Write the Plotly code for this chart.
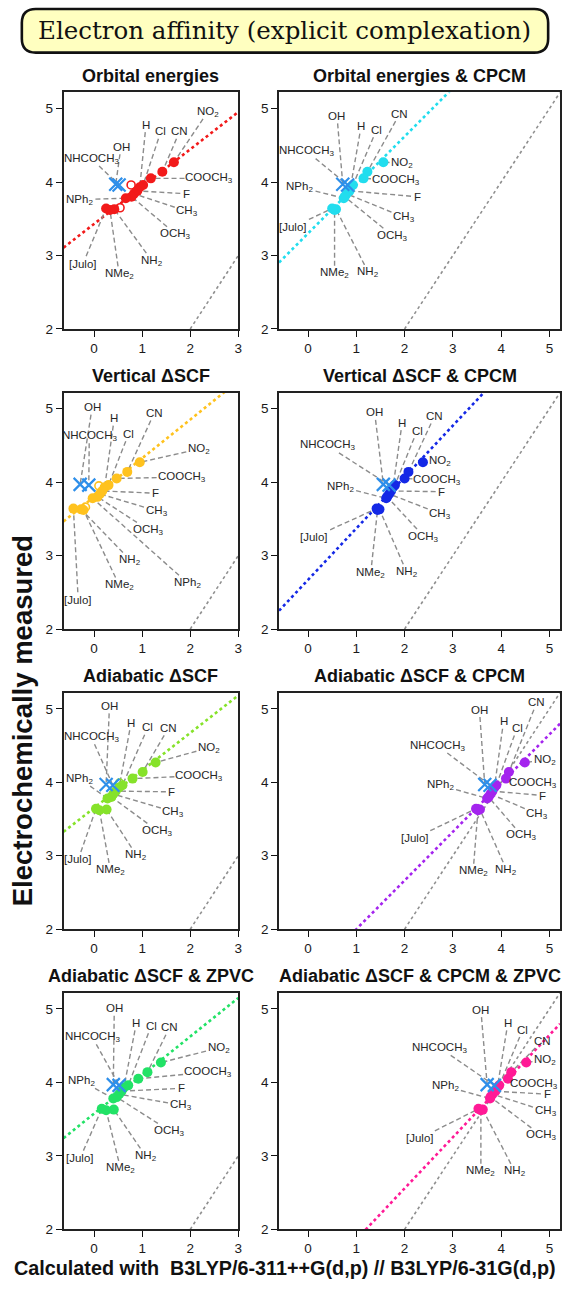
import re
import numpy as np
import plotly.graph_objects as go

# ---------------------------------------------------------------- data
substituents = ["NO2", "CN", "COOCH3", "Cl", "H", "F", "CH3", "OCH3",
                "NPh2", "NH2", "NMe2", "[Julo]", "OH", "NHCOCH3"]
# compounds left out of the regression, drawn as crosses
excluded = ["OH", "NHCOCH3"]

# electrochemically measured electron affinities (eV)
ea_measured = [4.27, 4.14, 4.05, 3.96, 3.93, 3.88, 3.84, 3.80,
               3.78, 3.63, 3.62, 3.64, 3.97, 3.96]

# calculated values, B3LYP/6-311++G(d,p) // B3LYP/6-31G(d,p)
ea_orbital = [1.66, 1.42, 1.18, 1.02, 0.95, 0.90, 0.83, 0.78,
              0.66, 0.42, 0.33, 0.25, 0.45, 0.52]
ea_orbital_cpcm = [1.56, 1.23, 1.15, 0.93, 0.88, 0.86, 0.80, 0.76,
                   0.74, 0.58, 0.55, 0.50, 0.72, 0.82]
ea_vertical = [0.95, 0.69, 0.47, 0.30, 0.22, 0.17, 0.12, 0.07,
               -0.03, -0.27, -0.22, -0.43, -0.29, -0.11]
ea_vertical_cpcm = [2.38, 2.08, 2.00, 1.80, 1.76, 1.72, 1.68, 1.64,
                    1.62, 1.48, 1.44, 1.42, 1.56, 1.68]
ea_adiabatic = [1.28, 1.01, 0.80, 0.59, 0.52, 0.45, 0.40, 0.36,
                0.28, 0.26, 0.11, 0.04, 0.25, 0.39]
ea_adiabatic_cpcm = [4.49, 4.16, 4.10, 3.90, 3.86, 3.82, 3.78, 3.74,
                     3.71, 3.56, 3.52, 3.48, 3.66, 3.77]
ea_adiabatic_zpvc = [1.39, 1.11, 0.92, 0.71, 0.62, 0.57, 0.52, 0.47,
                     0.40, 0.41, 0.25, 0.16, 0.40, 0.52]
ea_adiabatic_cpcm_zpvc = [4.52, 4.21, 4.14, 3.96, 3.92, 3.88, 3.82, 3.78,
                          3.77, 3.62, 3.58, 3.53, 3.71, 3.86]

# second conformers (open circles): calculated / measured
alt_calc = [[0.77, 0.54], [], [0.10, -0.18], [], [0.53], [], [], []]
alt_measured = [[3.96, 3.65], [], [3.95, 3.66], [], [3.99], [], [], []]

panel_titles = ["Orbital energies", "Orbital energies & CPCM",
                "Vertical ΔSCF", "Vertical ΔSCF & CPCM",
                "Adiabatic ΔSCF", "Adiabatic ΔSCF & CPCM",
                "Adiabatic ΔSCF & ZPVC", "Adiabatic ΔSCF & CPCM & ZPVC"]

# linear fits, measured = intercept + slope * calculated
fit_intercept = [3.43, 3.30, 3.80, 2.67, 3.65, 1.337, 3.575, 1.165]
fit_slope = [0.508, 0.66, 0.526, 0.70, 0.511, 0.663, 0.525, 0.696]

panel_calc = [ea_orbital, ea_orbital_cpcm, ea_vertical, ea_vertical_cpcm,
              ea_adiabatic, ea_adiabatic_cpcm, ea_adiabatic_zpvc,
              ea_adiabatic_cpcm_zpvc]

# ---------------------------------------------------------------- style
PANEL_COLORS = ["#F21A1A", "#22DDEE", "#FFC21E", "#1428E6",
                "#86E22A", "#A424EE", "#22E266", "#FF1A96"]
CROSS_COLOR = "#2E8FEA"
GUIDE_COLOR = "#8C8C8C"
FONT = "Liberation Sans, Arial, Helvetica, sans-serif"
LABEL_SIZE = 11.5

W, H = 573, 1290
COL_X = [(64, 240), (281, 564)]           # pixel extents of plot areas
ROW_Y = [(93, 331), (395, 633), (697, 935), (999, 1237)]
X_RANGES = [(-0.635, 3.0), (-0.6, 5.22)]
Y_RANGE = (2.0, 5.22)
X_TICKS = [[0, 1, 2, 3], [0, 1, 2, 3, 4, 5]]

# label anchor positions (data units) in substituent order, per panel
LABEL_POS = [
    [(2.37, 4.96), (1.78, 4.69), (2.40, 4.05), (1.39, 4.69), (1.08, 4.78),
     (1.92, 3.84), (1.94, 3.60), (1.70, 3.29), (-0.30, 3.76), (1.20, 2.93),
     (0.52, 2.75), (-0.23, 2.89), (0.56, 4.48), (-0.06, 4.32)],
    [(1.95, 4.26), (1.90, 4.93), (1.82, 4.03), (1.42, 4.71), (1.10, 4.76),
     (2.26, 3.80), (1.99, 3.52), (1.75, 3.27), (-0.17, 3.93), (1.25, 2.77),
     (0.55, 2.76), (-0.31, 3.39), (0.60, 4.90), (-0.03, 4.42)],
    [(2.18, 4.45), (1.25, 4.94), (1.82, 4.07), (0.72, 4.66), (0.42, 4.87),
     (1.28, 3.85), (1.30, 3.61), (1.13, 3.35), (1.94, 2.63), (0.75, 2.94),
     (0.52, 2.60), (-0.33, 2.40), (-0.04, 5.02), (-0.10, 4.63)],
    [(2.73, 4.29), (2.62, 4.90), (2.68, 4.03), (2.26, 4.70), (1.95, 4.81),
     (2.77, 3.87), (2.74, 3.57), (2.40, 3.26), (0.67, 3.94), (2.04, 2.78),
     (1.30, 2.77), (0.12, 3.25), (1.38, 4.95), (0.40, 4.50)],
    [(2.39, 4.47), (1.55, 4.74), (2.19, 4.09), (1.12, 4.75), (0.77, 4.81),
     (1.62, 3.87), (1.65, 3.60), (1.32, 3.34), (-0.30, 4.05), (0.88, 3.01),
     (0.34, 2.80), (-0.33, 2.95), (0.32, 5.04), (-0.06, 4.62)],
    [(4.90, 4.30), (4.74, 5.09), (4.66, 3.99), (4.33, 4.74), (4.05, 4.83),
     (4.86, 3.82), (4.75, 3.57), (4.42, 3.28), (2.74, 3.96), (4.11, 2.81),
     (3.42, 2.79), (2.21, 3.24), (3.55, 4.99), (2.68, 4.50)],
    [(2.59, 4.47), (1.57, 4.75), (2.37, 4.14), (1.19, 4.77), (0.88, 4.81),
     (1.81, 3.92), (1.80, 3.69), (1.57, 3.34), (-0.26, 4.02), (1.07, 3.00),
     (0.55, 2.83), (-0.29, 2.97), (0.42, 5.01), (-0.04, 4.62)],
    [(4.91, 4.31), (4.86, 4.57), (4.69, 3.98), (4.45, 4.72), (4.14, 4.81),
     (4.95, 3.84), (4.92, 3.61), (4.83, 3.28), (2.84, 3.95), (4.28, 2.79),
     (3.58, 2.79), (2.32, 3.24), (3.58, 4.99), (2.73, 4.47)],
]


def formula_html(name):
    """Write digits of a chemical group as subscripts."""
    return re.sub(r"(\d+)", r"<sub>\1</sub>", name)


def label_width(name, size=LABEL_SIZE):
    w = 0.0
    for ch in name:
        if ch.isdigit():
            w += 0.42
        elif ch in "[]":
            w += 0.28
        elif ch == "l":
            w += 0.22
        elif ch.isupper():
            w += 0.72
        else:
            w += 0.55
    return w * size


fig = go.Figure()
annotations = []
shapes = []
layout_axes = {}

for i in range(8):
    row, col = divmod(i, 2)
    ax = "" if i == 0 else str(i + 1)
    xref, yref = f"x{ax}", f"y{ax}"
    color = PANEL_COLORS[i]
    (px0, px1), (py0, py1) = COL_X[col], ROW_Y[row]
    xr = X_RANGES[col]
    sx = (px1 - px0) / (xr[1] - xr[0])
    sy = (py1 - py0) / (Y_RANGE[1] - Y_RANGE[0])

    axis_common = dict(
        ticks="outside", ticklen=6, tickwidth=1.4, tickcolor="#111",
        showline=True, linecolor="#222", linewidth=1.7, mirror=True,
        showgrid=False, zeroline=False,
        tickfont=dict(family=FONT, size=13.5, color="#1a1a1a"))
    layout_axes[f"xaxis{ax}"] = dict(
        domain=[px0 / W, px1 / W], anchor=yref, range=list(xr),
        tickvals=X_TICKS[col], **axis_common)
    layout_axes[f"yaxis{ax}"] = dict(
        domain=[1 - py1 / H, 1 - py0 / H], anchor=xref, range=list(Y_RANGE),
        tickvals=[2, 3, 4, 5], **axis_common)

    # identity line
    fig.add_trace(go.Scatter(
        x=[2, xr[1]], y=[2, xr[1]], mode="lines", xaxis=xref, yaxis=yref,
        line=dict(color="#8F8F8F", width=1.6, dash="dot"), hoverinfo="skip"))

    # regression line
    fx = np.array(xr)
    fig.add_trace(go.Scatter(
        x=fx, y=fit_intercept[i] + fit_slope[i] * fx, mode="lines",
        xaxis=xref, yaxis=yref, hoverinfo="skip",
        line=dict(color=color, width=2.6, dash="dot")))

    calc = panel_calc[i]
    # guide lines from labels to points
    for k, name in enumerate(substituents):
        lx, ly = LABEL_POS[i][k]
        qx, qy = calc[k], ea_measured[k]
        dxp, dyp = (qx - lx) * sx, (qy - ly) * sy
        hw, hh = label_width(name) / 2 + 2, 7.5
        t = min(hw / abs(dxp) if dxp else np.inf,
                hh / abs(dyp) if dyp else np.inf)
        if t < 0.97:
            fig.add_trace(go.Scatter(
                x=[lx + t * (qx - lx), qx], y=[ly + t * (qy - ly), qy],
                mode="lines", xaxis=xref, yaxis=yref, hoverinfo="skip",
                line=dict(color=GUIDE_COLOR, width=1.4, dash="5px,3px")))
        annotations.append(dict(
            x=lx, y=ly, xref=xref, yref=yref, text=formula_html(name),
            showarrow=False, xanchor="center", yanchor="middle",
            font=dict(family=FONT, size=LABEL_SIZE, color="#262626")))

    fitted = [k for k, n in enumerate(substituents) if n not in excluded]
    crossed = [k for k, n in enumerate(substituents) if n in excluded]

    fig.add_trace(go.Scatter(
        x=alt_calc[i], y=alt_measured[i], mode="markers",
        xaxis=xref, yaxis=yref, hoverinfo="skip",
        marker=dict(symbol="circle-open", size=8, color=color,
                    line=dict(width=1.6, color=color))))
    fig.add_trace(go.Scatter(
        x=[calc[k] for k in fitted], y=[ea_measured[k] for k in fitted],
        mode="markers", xaxis=xref, yaxis=yref,
        marker=dict(size=10, color=color, line=dict(width=0))))
    fig.add_trace(go.Scatter(
        x=[calc[k] for k in crossed], y=[ea_measured[k] for k in crossed],
        mode="markers", xaxis=xref, yaxis=yref,
        marker=dict(symbol="x-thin", size=13, color=CROSS_COLOR,
                    line=dict(width=2.2, color=CROSS_COLOR))))

    # panel title
    annotations.append(dict(
        x=(px0 + px1) / 2 / W, y=1 - (py0 - 17) / H, xref="paper",
        yref="paper", text=f"<b>{panel_titles[i]}</b>", showarrow=False,
        xanchor="center", yanchor="middle",
        font=dict(family=FONT, size=18, color="#111")))

# framed heading
x0, x1 = 22 / W, 552 / W
y1, y0 = 1 - 9 / H, 1 - 53 / H
rx, ry = 14 / W, 14 / H
path = (f"M {x0 + rx},{y1} L {x1 - rx},{y1} Q {x1},{y1} {x1},{y1 - ry} "
        f"L {x1},{y0 + ry} Q {x1},{y0} {x1 - rx},{y0} L {x0 + rx},{y0} "
        f"Q {x0},{y0} {x0},{y0 + ry} L {x0},{y1 - ry} Q {x0},{y1} {x0 + rx},{y1} Z")
shapes.append(dict(type="path", path=path, xref="paper", yref="paper",
                   fillcolor="#FFFFC0", line=dict(color="#111", width=2.6)))
annotations.append(dict(
    x=0.5, y=1 - 31 / H, xref="paper", yref="paper",
    text="Electron affinity (explicit complexation)", showarrow=False,
    xanchor="center", yanchor="middle",
    font=dict(family="DejaVu Serif, serif", size=24.5, color="#111")))

# axis titles
annotations.append(dict(
    x=23 / W, y=1 - 725 / H, xref="paper", yref="paper",
    text="<b>Electrochemically measured</b>", showarrow=False, textangle=-90,
    xanchor="center", yanchor="middle",
    font=dict(family=FONT, size=27.5, color="#111")))
annotations.append(dict(
    x=287 / W, y=1 - 1276 / H, xref="paper", yref="paper",
    text="<b>Calculated with  B3LYP/6-311++G(d,p) // B3LYP/6-31G(d,p)</b>",
    showarrow=False, xanchor="center", yanchor="middle",
    font=dict(family=FONT, size=19.8, color="#111")))

fig.update_layout(
    width=W, height=H, margin=dict(l=0, r=0, t=0, b=0),
    paper_bgcolor="white", plot_bgcolor="white", showlegend=False,
    annotations=annotations, shapes=shapes, **layout_axes)

fig.write_html("out.html")
